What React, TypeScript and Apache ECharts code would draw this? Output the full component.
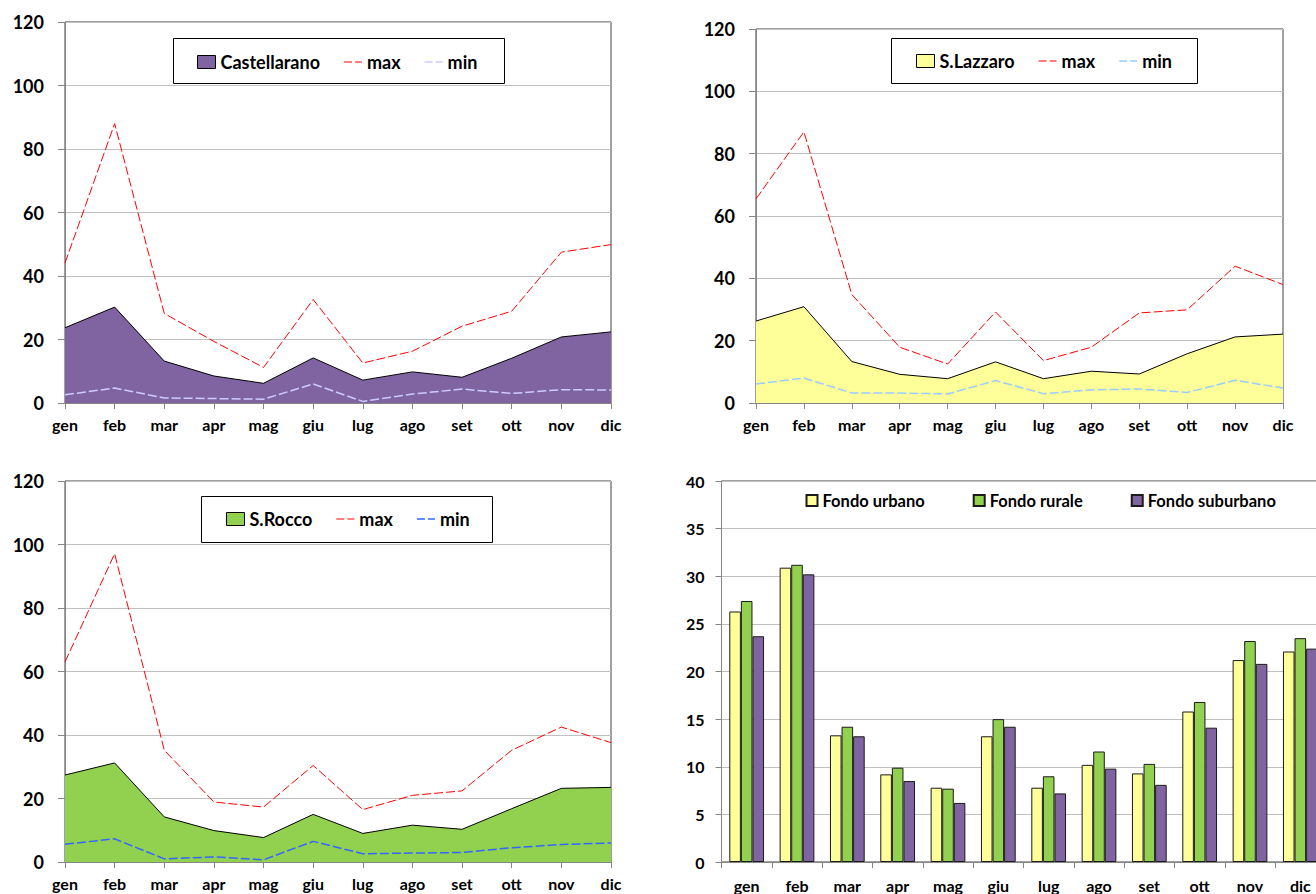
import React, { useEffect, useRef } from "react";
import * as echarts from "echarts";

const months = ["gen", "feb", "mar", "apr", "mag", "giu", "lug", "ago", "set", "ott", "nov", "dic"];

// Castellarano
const castellaranoMean = [23.7, 30.2, 13.2, 8.5, 6.2, 14.2, 7.2, 9.8, 8.1, 14.1, 20.8, 22.4];
const castellaranoMax = [44.1, 88.0, 28.2, 19.4, 11.2, 32.6, 12.6, 16.3, 24.2, 28.9, 47.5, 49.9];
const castellaranoMin = [2.6, 4.7, 1.6, 1.4, 1.2, 6.0, 0.5, 2.8, 4.4, 3.0, 4.2, 4.1];

// S.Lazzaro
const lazzaroMean = [26.3, 30.9, 13.3, 9.2, 7.8, 13.2, 7.8, 10.2, 9.3, 15.8, 21.2, 22.1];
const lazzaroMax = [65.5, 87.0, 34.8, 17.9, 12.5, 29.2, 13.6, 17.9, 28.9, 29.9, 43.9, 38.0];
const lazzaroMin = [6.1, 8.0, 3.2, 3.2, 2.9, 7.2, 3.0, 4.2, 4.5, 3.4, 7.3, 4.8];

// S.Rocco
const roccoMean = [27.4, 31.2, 14.2, 9.9, 7.7, 15.0, 9.0, 11.6, 10.3, 16.8, 23.2, 23.5];
const roccoMax = [63.0, 97.1, 35.2, 18.9, 17.3, 30.4, 16.5, 21.0, 22.4, 35.2, 42.5, 37.6];
const roccoMin = [5.6, 7.3, 1.0, 1.6, 0.7, 6.5, 2.6, 2.8, 3.0, 4.5, 5.5, 6.0];

// Bar chart
const fondoUrbano = [26.3, 30.9, 13.3, 9.2, 7.8, 13.2, 7.8, 10.2, 9.3, 15.8, 21.2, 22.1];
const fondoRurale = [27.4, 31.2, 14.2, 9.9, 7.7, 15.0, 9.0, 11.6, 10.3, 16.8, 23.2, 23.5];
const fondoSuburbano = [23.7, 30.2, 13.2, 8.5, 6.2, 14.2, 7.2, 9.8, 8.1, 14.1, 20.8, 22.4];

const FONT = "Lato";
const AXIS_COLOR = "#868686";
const GRID_COLOR = "#c0c0c0";
const DASH_ICON_THIN = "path://M0,0h8v1.2h-8z M11,0h7v1.2h-7z";
const DASH_ICON_THICK = "path://M0,0h8v1.6h-8z M11,0h7v1.6h-7z";

type LineCfg = {
  grid: { left: number; top: number; width: number; height: number };
  name: string;
  mean: number[];
  max: number[];
  min: number[];
  areaColor: string;
  minColor: string;
  legendLeft: number;
  legendTop: number;
  box: { x: number; y: number; w: number; h: number };
};

function lineOption(c: LineCfg): any {
  const base = { color: "#000", fontFamily: FONT, fontWeight: "bold" };
  return {
    animation: false,
    grid: { ...c.grid, show: true, borderColor: "#404040", borderWidth: 1 },
    xAxis: {
      type: "category",
      data: months,
      boundaryGap: false,
      axisLine: { lineStyle: { color: AXIS_COLOR } },
      axisTick: { show: true, length: 6, lineStyle: { color: AXIS_COLOR } },
      axisLabel: { ...base, fontSize: 16, margin: 13 },
      splitLine: { show: false },
    },
    yAxis: {
      type: "value",
      min: 0,
      max: 120,
      interval: 20,
      axisLine: { show: true, lineStyle: { color: AXIS_COLOR } },
      axisTick: { show: true, length: 7, lineStyle: { color: AXIS_COLOR } },
      axisLabel: { ...base, fontSize: 18, margin: 21 },
      splitLine: { lineStyle: { color: GRID_COLOR } },
    },
    legend: {
      left: c.legendLeft,
      top: c.legendTop,
      padding: 0,
      itemGap: 24,
      itemWidth: 18,
      itemHeight: 13,
      symbolKeepAspect: true,
      textStyle: { ...base, fontSize: 18 },
      data: [
        { name: c.name, icon: "rect", itemStyle: { color: c.areaColor, borderColor: "#000", borderWidth: 1 } },
        { name: "max", icon: DASH_ICON_THIN, itemStyle: { color: "#ff0000", borderWidth: 0 } },
        { name: "min", icon: DASH_ICON_THICK, itemStyle: { color: c.minColor, borderWidth: 0 } },
      ],
    },
    graphic: [
      {
        type: "rect",
        shape: { x: c.box.x, y: c.box.y, width: c.box.w, height: c.box.h },
        style: { fill: "#fff", stroke: "#000", lineWidth: 1 },
        z: 1,
        silent: true,
      },
    ],
    series: [
      {
        name: c.name,
        type: "line",
        data: c.mean,
        symbol: "none",
        itemStyle: { color: c.areaColor },
        lineStyle: { color: "#000", width: 1 },
        areaStyle: { color: c.areaColor, opacity: 1 },
      },
      {
        name: "max",
        type: "line",
        data: c.max,
        symbol: "none",
        itemStyle: { color: "#ff0000" },
        lineStyle: { color: "#ff0000", width: 1, type: [9, 3] },
      },
      {
        name: "min",
        type: "line",
        data: c.min,
        symbol: "none",
        itemStyle: { color: c.minColor },
        lineStyle: { color: c.minColor, width: 1.5, type: [9, 3] },
      },
    ],
  };
}

function barOption(): any {
  const base = { color: "#000", fontFamily: FONT, fontWeight: "bold" };
  const mk = (name: string, data: number[], color: string) => ({
    name,
    type: "bar",
    data,
    barGap: "0%",
    barCategoryGap: "31%",
    itemStyle: { color, borderColor: "#1a1a1a", borderWidth: 1 },
  });
  return {
    animation: false,
    grid: { left: 63.5, top: 34, width: 604, height: 381, show: true, borderColor: "#404040", borderWidth: 1 },
    xAxis: {
      type: "category",
      data: months,
      axisLine: { lineStyle: { color: AXIS_COLOR } },
      axisTick: { show: true, length: 6, lineStyle: { color: AXIS_COLOR } },
      axisLabel: { ...base, fontSize: 16, margin: 15 },
    },
    yAxis: {
      type: "value",
      min: 0,
      max: 40,
      interval: 5,
      axisLine: { show: true, lineStyle: { color: AXIS_COLOR } },
      axisTick: { show: true, length: 6, lineStyle: { color: AXIS_COLOR } },
      axisLabel: { ...base, fontSize: 16, margin: 17 },
      splitLine: { lineStyle: { color: GRID_COLOR } },
    },
    legend: {
      left: 147.5,
      top: 45,
      padding: 0,
      itemGap: 48,
      itemWidth: 11,
      itemHeight: 11,
      icon: "rect",
      textStyle: { ...base, fontSize: 16.5 },
    },
    series: [
      mk("Fondo urbano", fondoUrbano, "#ffff99"),
      mk("Fondo rurale", fondoRurale, "#92d050"),
      mk("Fondo suburbano", fondoSuburbano, "#8064a2"),
    ],
  };
}

function Chart({ option, style }: { option: any; style: React.CSSProperties }) {
  const ref = useRef<HTMLDivElement>(null);
  useEffect(() => {
    if (!ref.current) return;
    const chart = echarts.init(ref.current, null, { renderer: "svg" });
    chart.setOption(option);
    return () => chart.dispose();
  }, [option]);
  return <div ref={ref} style={{ position: "absolute", ...style }} />;
}

const opt1 = lineOption({
  grid: { left: 65, top: 22, width: 546, height: 381 },
  name: "Castellarano",
  mean: castellaranoMean,
  max: castellaranoMax,
  min: castellaranoMin,
  areaColor: "#8064a2",
  minColor: "#ccccff",
  legendLeft: 197,
  legendTop: 53,
  box: { x: 173.5, y: 38.5, w: 331, h: 45 },
});

const opt2 = lineOption({
  grid: { left: 98, top: 29, width: 527, height: 374 },
  name: "S.Lazzaro",
  mean: lazzaroMean,
  max: lazzaroMax,
  min: lazzaroMin,
  areaColor: "#ffff99",
  minColor: "#99ccff",
  legendLeft: 258,
  legendTop: 52,
  box: { x: 233.5, y: 38.5, w: 306, h: 45 },
});

const opt3 = lineOption({
  grid: { left: 65, top: 34, width: 546, height: 381 },
  name: "S.Rocco",
  mean: roccoMean,
  max: roccoMax,
  min: roccoMin,
  areaColor: "#92d050",
  minColor: "#3366ff",
  legendLeft: 226,
  legendTop: 63,
  box: { x: 201.5, y: 49.5, w: 291, h: 46 },
});

const opt4 = barOption();

export default function App() {
  return (
    <div
      style={{
        position: "absolute",
        left: 0,
        top: 0,
        width: 1316,
        height: 894,
        overflow: "hidden",
        background: "#fff",
      }}
    >
      <Chart option={opt1} style={{ left: 0, top: 0, width: 658, height: 447 }} />
      <Chart option={opt2} style={{ left: 658, top: 0, width: 658, height: 447 }} />
      <Chart option={opt3} style={{ left: 0, top: 447, width: 658, height: 447 }} />
      <Chart option={opt4} style={{ left: 658, top: 447, width: 700, height: 447 }} />
    </div>
  );
}
